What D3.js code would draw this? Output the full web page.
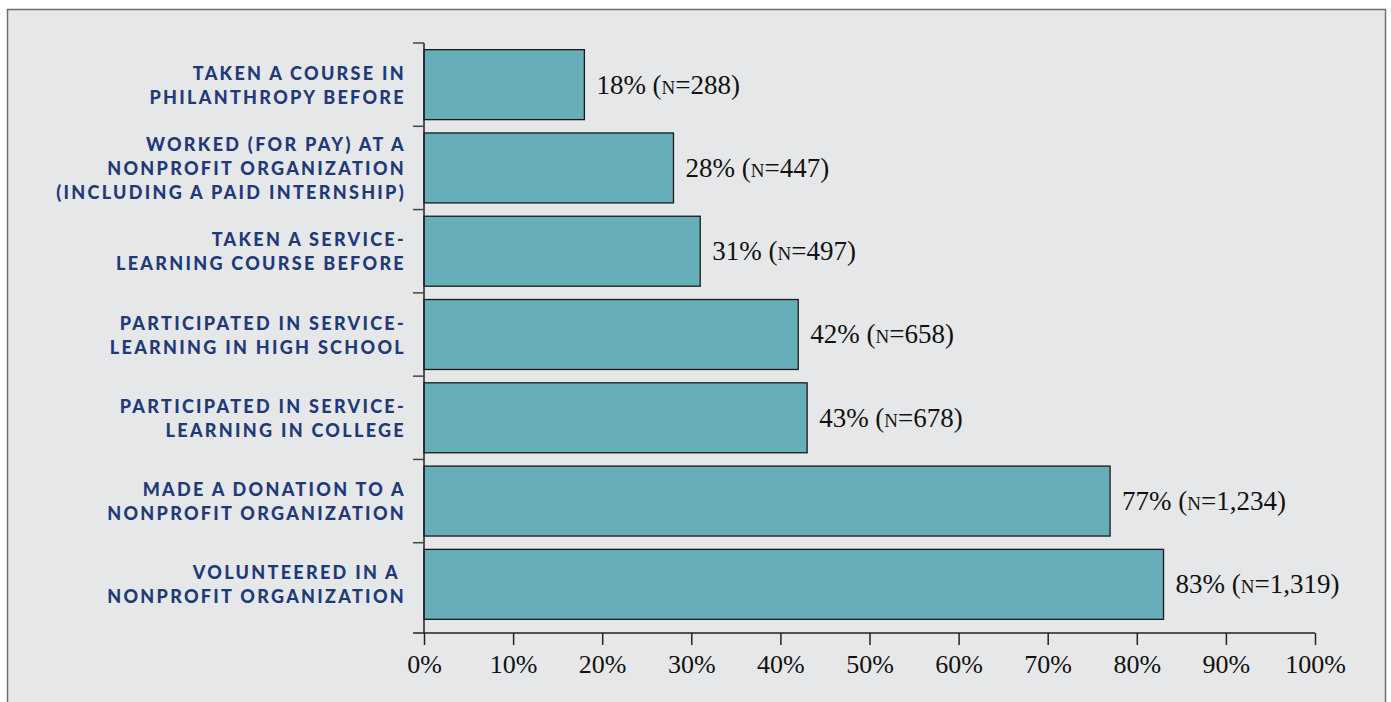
<!DOCTYPE html>
<html lang="en">
<head>
<meta charset="utf-8"/>
<title>Experience with nonprofits</title>
<script src="https://d3js.org/d3.v7.min.js"></script>
<style>
  body { margin: 0; background: #fff; }
  .cat { font-family: Lato, "Open Sans", sans-serif; font-weight: 900; font-size: 18px; letter-spacing: 2.3px; fill: #1e3a7a; }
  .val { font-family: "Liberation Serif", serif; font-size: 27px; fill: #111; font-variant: small-caps; }
  .xaxis text { font-family: "Liberation Serif", serif; font-size: 26px; fill: #111; }
</style>
</head>
<body>
<svg id="chart" width="1391" height="702"></svg>
<script>
// data, top to bottom
const categories = [
  ["TAKEN A COURSE IN", "PHILANTHROPY BEFORE"],
  ["WORKED (FOR PAY) AT A", "NONPROFIT ORGANIZATION", "(INCLUDING A PAID INTERNSHIP)"],
  ["TAKEN A SERVICE-", "LEARNING COURSE BEFORE"],
  ["PARTICIPATED IN SERVICE-", "LEARNING IN HIGH SCHOOL"],
  ["PARTICIPATED IN SERVICE-", "LEARNING IN COLLEGE"],
  ["MADE A DONATION TO A", "NONPROFIT ORGANIZATION"],
  ["VOLUNTEERED IN A ", "NONPROFIT ORGANIZATION"]
];
const percents = [18, 28, 31, 42, 43, 77, 83];
const counts = ["288", "447", "497", "658", "678", "1,234", "1,319"];
const xTicks = [0, 10, 20, 30, 40, 50, 60, 70, 80, 90, 100];

const svg = d3.select("#chart");

// panel
svg.append("rect").attr("x", 7.5).attr("y", 9.5).attr("width", 1378).attr("height", 700)
  .attr("fill", "#e6e7e9").attr("stroke", "#6d6e70").attr("stroke-width", 1.5);

const x = d3.scaleLinear().domain([0, 100]).range([424, 1315]);
const y = d3.scaleBand().domain(d3.range(categories.length)).range([43, 626])
  .paddingInner(0.16).paddingOuter(0.08);
const axisY = 633;

// bars
svg.selectAll("rect.bar").data(percents).enter().append("rect")
  .attr("class", "bar")
  .attr("x", x(0))
  .attr("y", (d, i) => y(i))
  .attr("width", d => x(d) - x(0))
  .attr("height", y.bandwidth())
  .attr("fill", "#67aebb")
  .attr("stroke", "#1a1a1a")
  .attr("stroke-width", 1.3);

// value labels
svg.selectAll("text.val").data(percents).enter().append("text")
  .attr("class", "val")
  .attr("x", d => x(d) + 12)
  .attr("y", (d, i) => y(i) + y.bandwidth() / 2)
  .attr("dy", "0.33em")
  .text((d, i) => d + "% (n=" + counts[i] + ")");

// y axis: line and ticks at band boundaries
const step = y.step();
const y0 = y.range()[0];
svg.append("line").attr("x1", x(0)).attr("x2", x(0)).attr("y1", y0).attr("y2", axisY)
  .attr("stroke", "#222").attr("stroke-width", 1.5);
svg.selectAll("line.ytick").data(d3.range(categories.length)).enter().append("line")
  .attr("class", "ytick")
  .attr("x1", x(0) - 11).attr("x2", x(0))
  .attr("y1", i => y0 + i * step).attr("y2", i => y0 + i * step)
  .attr("stroke", "#444").attr("stroke-width", 1.5);

// category labels
const cat = svg.selectAll("text.cat").data(categories).enter().append("text")
  .attr("class", "cat")
  .attr("text-anchor", "end")
  .attr("x", 406)
  .attr("y", (d, i) => y(i) + y.bandwidth() / 2 - (d.length - 1) * 12 + 7);
cat.selectAll("tspan").data(d => d).enter().append("tspan")
  .attr("x", 406)
  .attr("dy", (d, j) => j === 0 ? 0 : 24)
  .text(d => d);

// x axis
const gx = svg.append("g").attr("class", "xaxis").attr("transform", "translate(0," + axisY + ")")
  .call(d3.axisBottom(x).tickValues(xTicks).tickSize(12).tickSizeOuter(0).tickFormat(d => d + "%"));
gx.select(".domain").remove();
gx.selectAll(".tick line").attr("stroke", "#222").attr("stroke-width", 1.5);
gx.selectAll(".tick text").attr("y", 22);
gx.append("line").attr("x1", x(0) - 11).attr("x2", x(100)).attr("y1", 0).attr("y2", 0)
  .attr("stroke", "#222").attr("stroke-width", 1.5);
</script>
</body>
</html>
